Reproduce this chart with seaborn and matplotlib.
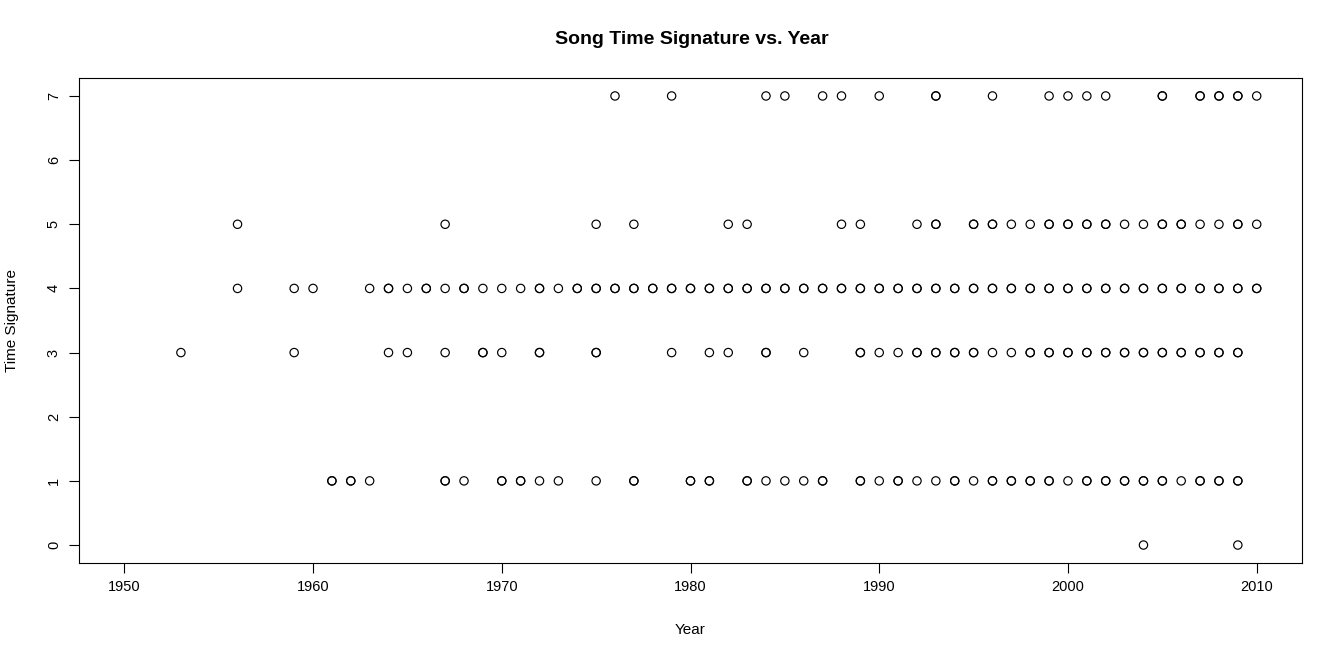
import matplotlib

matplotlib.use("Agg")

import pandas as pd
import seaborn as sns
import matplotlib.pyplot as plt

# years per time-signature level; years listed twice are the darker (overlapping) circles
sig_7_years = [1976, 1979, 1984, 1985, 1987, 1988, 1990, 1993, 1993, 1996, 1999, 2000,
               2001, 2002, 2005, 2005, 2007, 2007, 2008, 2008, 2009, 2009, 2010]
sig_5_years = [1956, 1967, 1975, 1977, 1982, 1983, 1988, 1989, 1992, 1993, 1993, 1995,
               1995, 1996, 1996, 1997, 1998, 1999, 1999, 2000, 2000, 2001, 2001, 2002,
               2002, 2003, 2004, 2005, 2005, 2006, 2006, 2007, 2008, 2009, 2009, 2010]
sig_4_years = [1956, 1959, 1960, 1963, 1964, 1964, 1965, 1966, 1966, 1967, 1968, 1968,
               1969, 1970, 1971, 1972, 1972, 1973, 1974, 1974, 1975, 1975, 1976, 1976,
               1977, 1977, 1978, 1978, 1979, 1979] + \
              [y for y in range(1980, 2011) for _ in range(2)]
sig_3_years = [1953, 1959, 1964, 1965, 1967, 1969, 1969, 1970, 1972, 1972, 1975, 1975,
               1979, 1981, 1982, 1984, 1984, 1986, 1989, 1989, 1990, 1991, 1992, 1992,
               1993, 1993, 1994, 1994, 1995, 1995, 1996, 1997, 1998, 1998, 1999, 1999,
               2000, 2000, 2001, 2001, 2002, 2002, 2003, 2003, 2004, 2004, 2005, 2005,
               2006, 2006, 2007, 2007, 2008, 2008, 2009, 2009]
sig_1_years = [1961, 1961, 1962, 1962, 1963, 1967, 1967, 1968, 1970, 1970, 1971, 1971,
               1972, 1973, 1975, 1977, 1977, 1980, 1980, 1981, 1981, 1983, 1983, 1984,
               1985, 1986, 1987, 1987, 1989, 1989, 1990, 1991, 1991, 1992, 1993, 1994,
               1994, 1995, 1996, 1996, 1997, 1997, 1998, 1998, 1999, 1999, 2000, 2001,
               2001, 2002, 2002, 2003, 2003, 2004, 2004, 2005, 2005, 2006, 2007, 2007,
               2008, 2008, 2009, 2009]
sig_0_years = [2004, 2009]

levels = {7: sig_7_years, 5: sig_5_years, 4: sig_4_years, 3: sig_3_years,
          1: sig_1_years, 0: sig_0_years}

rows = []
for sig, years in levels.items():
    for year in years:
        rows.append({"year": year, "time_signature": sig})
songs = pd.DataFrame(rows)

sns.set_style("ticks")
plt.rcParams["font.family"] = ["Liberation Sans", "DejaVu Sans"]
plt.rcParams["text.color"] = "black"
plt.rcParams["axes.labelcolor"] = "black"

fig = plt.figure(figsize=(13.43, 6.61), dpi=100)
ax = fig.add_axes([79 / 1343, 1 - 563 / 661, (1302 - 79) / 1343, (563 - 78) / 661])

sns.scatterplot(data=songs, x="year", y="time_signature", ax=ax,
                marker="o", s=36, facecolor="none", edgecolor="black",
                linewidth=0.85, legend=False)

ax.set_xlim(1947.6, 2012.4)
ax.set_ylim(-0.28, 7.28)
ax.set_xticks(range(1950, 2011, 10))
ax.set_yticks(range(0, 8))
ax.set_yticklabels([str(v) for v in range(0, 8)], rotation=90, va="center")
ax.tick_params(axis="both", direction="out", length=7, width=0.8, labelsize=10.5,
               colors="black")
ax.tick_params(axis="x", pad=5)
ax.tick_params(axis="y", pad=6)

for spine in ax.spines.values():
    spine.set_visible(True)
    spine.set_linewidth(0.8)
    spine.set_color("black")

ax.set_xlabel("Year", fontsize=11, labelpad=21)
ax.set_ylabel("Time Signature", fontsize=11, labelpad=20)
fig.text(692 / 1343, 1 - 40 / 661, "Song Time Signature vs. Year",
         ha="center", va="center", fontsize=14, fontweight="bold")

fig.savefig("out.png", dpi=100)
